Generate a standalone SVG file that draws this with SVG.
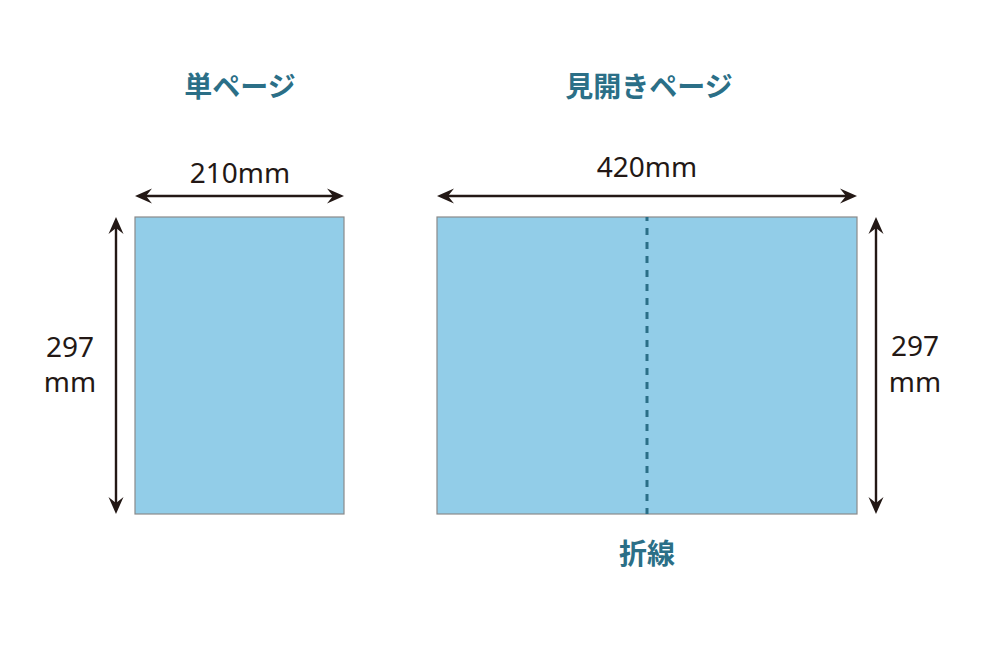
<svg xmlns="http://www.w3.org/2000/svg" width="1001" height="654" viewBox="0 0 1001 654">
  <style>
    .page { fill: #92cde8; stroke: #8a8a8a; stroke-width: 1.2; }
    .title { font-family: "Noto Sans CJK JP", "Noto Sans", sans-serif; font-weight: 700; font-size: 28px; fill: #2b6f87; text-anchor: middle; }
    .dim { font-family: "Noto Sans", "Liberation Sans", sans-serif; font-size: 28px; fill: #231815; text-anchor: middle; }
    .arrow { stroke: #231815; stroke-width: 2.4; fill: none; marker-start: url(#ah); marker-end: url(#ah); }
    .fold { stroke: #2b6f87; stroke-width: 3; stroke-dasharray: 7 7; fill: none; }
  </style>
  <defs>
    <marker id="ah" viewBox="-18 -8 19 16" markerWidth="19" markerHeight="16" refX="-10" refY="0" orient="auto-start-reverse" markerUnits="userSpaceOnUse">
      <path d="M0,0 L-17,-7.5 L-11,0 L-17,7.5 Z" fill="#231815"/>
    </marker>
  </defs>
  <rect width="1001" height="654" fill="#ffffff"/>

  <g id="single-page">
    <text class="title" x="240" y="97">単ページ</text>
    <rect class="page" x="135" y="217" width="209" height="297"/>
    <text class="dim" x="240" y="183">210mm</text>
    <text class="dim" x="70" y="357">297</text>
    <text class="dim" x="70" y="392">mm</text>
  </g>

  <g id="spread-page">
    <text class="title" x="649" y="97">見開きページ</text>
    <rect class="page" x="437" y="217" width="420" height="297"/>
    <line class="fold" x1="647" y1="217" x2="647" y2="514" stroke-dashoffset="3"/>
    <text class="dim" x="647" y="177">420mm</text>
    <text class="dim" x="915" y="356">297</text>
    <text class="dim" x="915" y="392">mm</text>
    <text class="title" x="647" y="564">折線</text>
  </g>

  <g id="connectors">
    <line class="arrow" x1="145" y1="196" x2="334" y2="196"/>
    <line class="arrow" x1="116" y1="227" x2="116" y2="504"/>
    <line class="arrow" x1="447" y1="196" x2="847" y2="196"/>
    <line class="arrow" x1="876" y1="227" x2="876" y2="504"/>
  </g>
</svg>
